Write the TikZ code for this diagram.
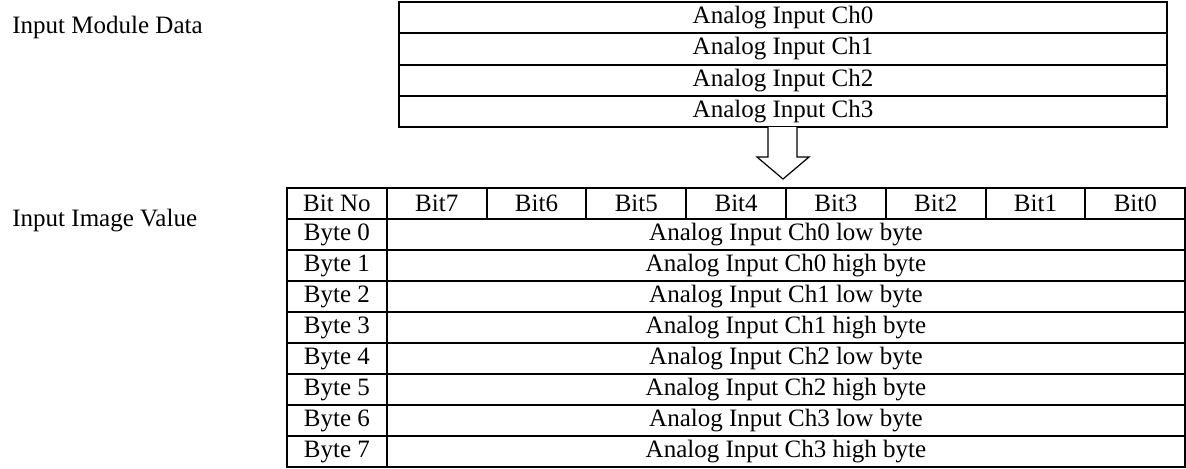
\documentclass[tikz,border=0pt]{standalone}
\usepackage{fontspec}
\setmainfont{Liberation Serif}
\usetikzlibrary{positioning}

\begin{document}
\begin{tikzpicture}[
  x=0.5pt, y=-0.5pt,
  font=\fontsize{12.5}{15}\selectfont,
  lbl/.style={anchor=base west, inner sep=0pt},
  modrow/.style={draw, line width=1pt, minimum width=384pt, minimum height=15.625pt, inner sep=0pt, outer sep=0pt, anchor=north west},
  cell/.style={draw, line width=1pt, minimum width=49.9pt, minimum height=15.5pt, inner sep=0pt, outer sep=0pt, anchor=north west},
  wide/.style={cell, minimum width=399.2pt, anchor=west},
  blockarrow/.style={draw, line width=0.6pt, fill=white}
]
  \useasboundingbox (0,0) rectangle (1186,468);

  % side labels
  \node[lbl] (lblmod) at (12,33) {Input Module Data};
  \node[lbl] (lblimg) at (12,226) {Input Image Value};

  % input module data
  \foreach \i in {0,...,3}
    \node[modrow] (mod\i) at (399,{2+31.25*\i}) {Analog Input Ch\i};

  % down arrow
  \draw[blockarrow] ([xshift=-7.5pt]mod3.south) -- ++(0,30) -- ++(-11,0)
    -- ++(26,22) -- ++(26,-22) -- ++(-12,0) -- ++(0,-30);

  % input image value: header row
  \node[cell] (hdr) at (287,188) {Bit No};
  \node[cell, anchor=west, right=0pt of hdr] (bit7) {Bit7};
  \foreach \b/\p in {6/7,5/6,4/5,3/4,2/3,1/2,0/1}
    \node[cell, anchor=west, right=0pt of bit\p] (bit\b) {Bit\b};

  % byte rows
  \foreach \r in {0,...,7} {
    \pgfmathtruncatemacro\ch{div(\r,2)}
    \ifodd\r \def\part{high}\else \def\part{low}\fi
    \node[cell] (byte\r) at (287,{219+31*\r}) {Byte \r};
    \node[wide, right=0pt of byte\r] (val\r) {Analog Input Ch\ch{} \part{} byte};
  }
\end{tikzpicture}
\end{document}
